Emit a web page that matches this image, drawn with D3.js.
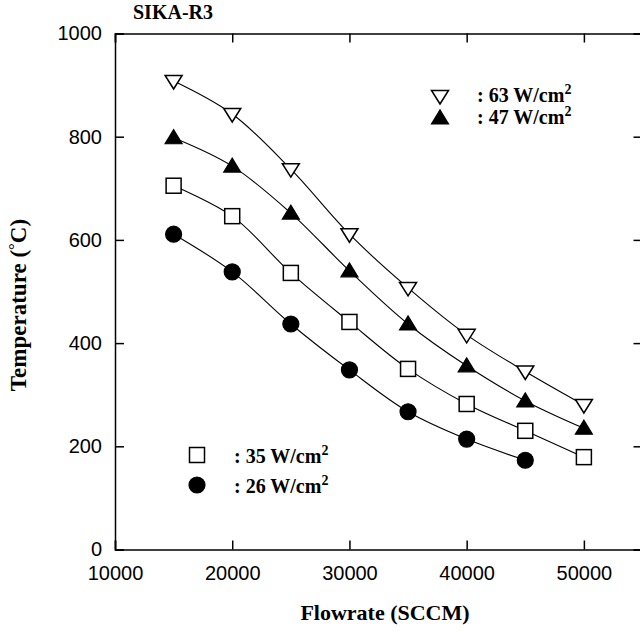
<!DOCTYPE html>
<html><head><meta charset="utf-8">
<script src="https://cdn.jsdelivr.net/npm/d3@7"></script>
<style>body{margin:0;background:#fff}svg{display:block}</style>
</head><body>
<svg id="c" width="640" height="631"></svg>
<script>
const flow = [15000, 20000, 25000, 30000, 35000, 40000, 45000, 50000];
const p63 = [908, 844, 737, 611, 507, 416, 345, 280];
const p47 = [798, 743, 652, 540, 437, 356, 288, 235];
const p35 = [705, 646, 536, 441, 350, 282, 230, 179];
const p26 = [611, 538, 437, 348, 267, 214, 173];
const xTicks = [10000, 20000, 30000, 40000, 50000];
const yTicks = [0, 200, 400, 600, 800, 1000];
const series = [
  {name: ": 63 W/cm", vals: p63, sym: "tridown", fill: "#fff"},
  {name: ": 47 W/cm", vals: p47, sym: "triup", fill: "#000"},
  {name: ": 35 W/cm", vals: p35, sym: "square", fill: "#fff"},
  {name: ": 26 W/cm", vals: p26, sym: "circle", fill: "#000"}
];

const svg = d3.select("#c");
const x = d3.scaleLinear().domain([10000, 55000]).range([115, 642.5]);
const y = d3.scaleLinear().domain([0, 1000]).range([549.5, 33.5]);
const serif = "'Liberation Serif','Times New Roman',serif";
const sans = "'Liberation Sans',Arial,sans-serif";

function sym(g, type, cx, cy, fill) {
  if (type === "circle") {
    g.append("circle").attr("cx", cx).attr("cy", cy).attr("r", 8)
      .attr("fill", fill).attr("stroke", "#000").attr("stroke-width", 1.2);
  } else if (type === "square") {
    g.append("rect").attr("x", cx - 7.5).attr("y", cy - 7.5).attr("width", 15).attr("height", 15)
      .attr("fill", fill).attr("stroke", "#000").attr("stroke-width", 1.5);
  } else if (type === "tridown") {
    g.append("path").attr("d", `M${cx-8.5},${cy-5.5}L${cx+8.5},${cy-5.5}L${cx},${cy+8}Z`)
      .attr("fill", fill).attr("stroke", "#000").attr("stroke-width", 1.5);
  } else {
    g.append("path").attr("d", `M${cx-8.5},${cy+6}L${cx+8.5},${cy+6}L${cx},${cy-8}Z`)
      .attr("fill", fill).attr("stroke", "#000").attr("stroke-width", 1.2);
  }
}

// axes
const tickLen = 9;
svg.append("g").attr("transform", "translate(0,549.5)")
  .call(d3.axisBottom(x).tickValues(xTicks).tickSize(-tickLen).tickPadding(16).tickFormat(d3.format("d")))
  .call(g => { g.select(".domain").attr("stroke-width", 1.5); g.selectAll("line").attr("stroke-width", 1.5);
    g.selectAll("text").attr("font-family", sans).attr("font-size", 20).attr("fill", "#000"); });
svg.append("g").attr("transform", "translate(0,33.5)")
  .call(d3.axisTop(x).tickValues(xTicks).tickSize(-tickLen).tickFormat(""))
  .call(g => { g.select(".domain").attr("stroke-width", 1.5); g.selectAll("line").attr("stroke-width", 1.5); });
svg.append("g").attr("transform", "translate(115,0)")
  .call(d3.axisLeft(y).tickValues(yTicks).tickSize(-tickLen).tickPadding(13).tickFormat(d3.format("d")))
  .call(g => { g.select(".domain").attr("stroke-width", 1.5); g.selectAll("line").attr("stroke-width", 1.5);
    g.selectAll("text").attr("font-family", sans).attr("font-size", 20).attr("fill", "#000"); });
svg.append("g").attr("transform", "translate(642.5,0)")
  .call(d3.axisRight(y).tickValues(yTicks).tickSize(-tickLen).tickFormat(""))
  .call(g => { g.select(".domain").attr("stroke-width", 1.5); g.selectAll("line").attr("stroke-width", 1.5); });

// lines
const line = d3.line().curve(d3.curveCatmullRom.alpha(0.5));
series.forEach(s => {
  const pts = s.vals.map((v, i) => [x(flow[i]), y(v)]);
  svg.append("path").attr("d", line(pts)).attr("fill", "none").attr("stroke", "#000").attr("stroke-width", 1.1);
});
series.forEach(s => {
  const g = svg.append("g");
  s.vals.forEach((v, i) => sym(g, s.sym, x(flow[i]), y(v), s.fill));
});

// legends
const leg = [
  {s: series[0], mx: 440, my: 96, tx: 477, ty: 102},
  {s: series[1], mx: 440, my: 118, tx: 477, ty: 124},
  {s: series[2], mx: 197, my: 455, tx: 234, ty: 463},
  {s: series[3], mx: 197, my: 485, tx: 234, ty: 493}
];
leg.forEach(l => {
  sym(svg.append("g"), l.s.sym, l.mx, l.my, l.s.fill);
  const t = svg.append("text").attr("x", l.tx).attr("y", l.ty).attr("font-family", serif)
    .attr("font-weight", "bold").attr("font-size", 20).attr("fill", "#000");
  t.append("tspan").text(l.s.name);
  t.append("tspan").attr("font-size", 14).attr("dy", -8).text("2");
});

// titles
svg.append("text").attr("x", 133).attr("y", 19).attr("font-family", serif).attr("font-weight", "bold")
  .attr("font-size", 20).text("SIKA-R3");
svg.append("text").attr("x", 385).attr("y", 620).attr("text-anchor", "middle").attr("font-family", serif)
  .attr("font-weight", "bold").attr("font-size", 22).text("Flowrate (SCCM)");
const yt = svg.append("text").attr("transform", "translate(26,305) rotate(-90)").attr("text-anchor", "middle")
  .attr("font-family", serif).attr("font-weight", "bold").attr("font-size", 23);
yt.append("tspan").text("Temperature (");
yt.append("tspan").attr("font-weight", "normal").attr("font-size", 17).attr("dy", -6).text("°");
yt.append("tspan").attr("dy", 6).text("C)");
</script>
</body></html>
